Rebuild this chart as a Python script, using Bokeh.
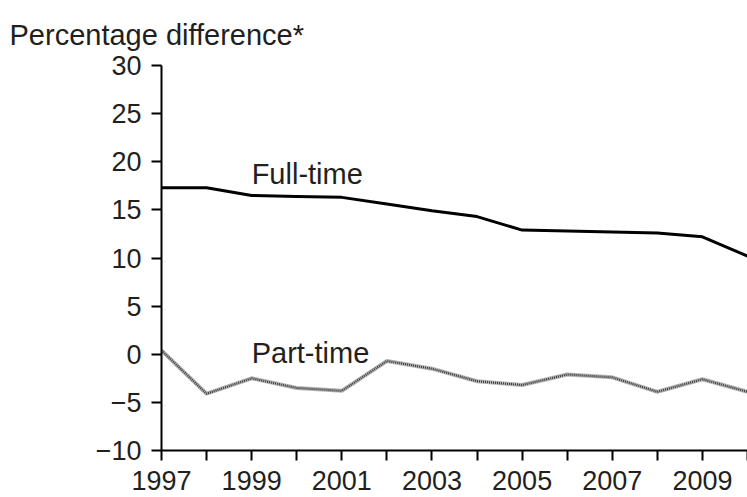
from bokeh.plotting import figure
from bokeh.models import Range1d, FixedTicker, Label
from bokeh.embed import file_html
from bokeh.resources import INLINE

years = [1997, 1998, 1999, 2000, 2001, 2002, 2003, 2004, 2005, 2006, 2007, 2008, 2009, 2010]
full_time = [17.3, 17.3, 16.5, 16.4, 16.3, 15.6, 14.9, 14.3, 12.9, 12.8, 12.7, 12.6, 12.2, 10.2]
part_time = [0.4, -4.1, -2.5, -3.5, -3.8, -0.7, -1.5, -2.8, -3.2, -2.1, -2.4, -3.9, -2.6, -3.9]
y_ticks = [-10, -5, 0, 5, 10, 15, 20, 25, 30]
x_major = [1997, 1999, 2001, 2003, 2005, 2007, 2009]
x_minor = [1998, 2000, 2002, 2004, 2006, 2008, 2010]
title_text = "Percentage difference*"
series_labels = ["Full-time", "Part-time"]

FONT = "Liberation Sans"
TXT = "#231f20"

p = figure(width=747, height=497, output_backend="svg", toolbar_location=None,
           x_range=Range1d(1997, 2010), y_range=Range1d(-10, 30),
           min_border_left=161, min_border_right=0, min_border_top=65, min_border_bottom=47)
p.outline_line_color = None
p.grid.visible = False
p.background_fill_color = None
p.border_fill_color = "white"

p.title.text = title_text
p.title.align = "left"
p.title.offset = -152
p.title.text_font = FONT
p.title.text_font_size = "29px"
p.title.text_font_style = "normal"
p.title.text_color = TXT
p.title.standoff = 30

for ax in (p.xaxis[0], p.yaxis[0]):
    ax.axis_line_width = 2
    ax.axis_line_color = "black"
    ax.major_tick_line_width = 2
    ax.minor_tick_line_width = 2
    ax.major_tick_out = 10
    ax.major_tick_in = 0
    ax.major_label_text_font = FONT
    ax.major_label_text_font_size = "27px"
    ax.major_label_text_color = TXT

p.xaxis.ticker = FixedTicker(ticks=x_major, minor_ticks=x_minor)
p.xaxis.minor_tick_out = 10
p.xaxis.minor_tick_in = 0
p.xaxis.major_label_standoff = 10

p.yaxis.ticker = FixedTicker(ticks=y_ticks, minor_ticks=[])
p.yaxis.major_label_standoff = 10
p.yaxis.major_label_overrides = {t: (str(t).replace("-", "\u2212")) for t in y_ticks}

# Full-time
p.line(years, full_time, line_color="black", line_width=3)
# Part-time: textured grey line
p.line(years, part_time, line_color="#b5b5b5", line_width=4)
p.line(years, part_time, line_color="#3a3a3a", line_width=2.2, line_dash="1 1")

label_x = [1999.0, 1999.0]
label_y = [18.75, 0.1]
for lx, ly, t in zip(label_x, label_y, series_labels):
    p.add_layout(Label(x=lx, y=ly, text=t, text_font=FONT, text_font_size="29px",
                       text_color=TXT, text_baseline="alphabetic", text_align="left"))

open("out.html", "w").write(file_html(p, INLINE))
